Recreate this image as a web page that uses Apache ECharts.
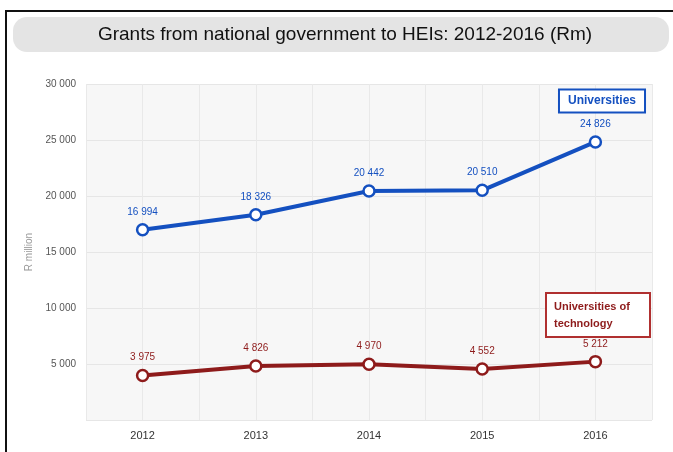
<!DOCTYPE html>
<html>
<head>
<meta charset="utf-8">
<script src="https://cdn.jsdelivr.net/npm/echarts@6/dist/echarts.min.js"></script>
<style>
  html, body { margin: 0; padding: 0; background: #fff; }
  #main { width: 673px; height: 452px; }
</style>
</head>
<body>
<div id="main"></div>
<script>
const years = ['2012', '2013', '2014', '2015', '2016'];
const universities = [16994, 18326, 20442, 20510, 24826];
const techUniversities = [3975, 4826, 4970, 4552, 5212];
const yTicks = [0, 5000, 10000, 15000, 20000, 25000, 30000];

const blue = '#1450c0';
const red = '#8e1b1b';

function spaced(v) {
  return String(v).replace(/\B(?=(\d{3})+(?!\d))/g, ' ');
}

const chart = echarts.init(document.getElementById('main'));
chart.setOption({
  animation: false,
  backgroundColor: '#fff',
  textStyle: { fontFamily: 'Liberation Sans, Arial, sans-serif' },
  graphic: [
    // outer frame
    { type: 'rect', shape: { x: 6, y: 11, width: 700, height: 500 },
      style: { fill: 'none', stroke: '#111', lineWidth: 2 }, z: 10 },
    // title bar
    { type: 'rect', shape: { x: 13, y: 17, width: 656, height: 35, r: 14 },
      style: { fill: '#e4e4e4' }, z: 1 },
    { type: 'text', x: 345, y: 35, z: 2,
      style: { text: 'Grants from national government to HEIs: 2012-2016 (Rm)',
               fill: '#111', font: '19px "Liberation Sans", Arial, sans-serif',
               align: 'center', verticalAlign: 'middle' } },
    // series boxes
    { type: 'text', x: 602, y: 101, z: 5,
      style: { text: 'Universities', fill: blue,
               font: 'bold 12px "Liberation Sans", Arial, sans-serif',
               align: 'center', verticalAlign: 'middle',
               backgroundColor: '#fff', borderColor: blue, borderWidth: 2,
               padding: [5, 8, 4, 8] } },
    { type: 'text', x: 547, y: 294, z: 5,
      style: { text: 'Universities of\ntechnology', fill: red,
               font: 'bold 11px "Liberation Sans", Arial, sans-serif',
               lineHeight: 17, width: 90,
               backgroundColor: '#fff', borderColor: '#b03030', borderWidth: 2,
               padding: [4, 5, 4, 7] } }
  ],
  grid: {
    left: 86, right: 21, top: 84, bottom: 32,
    show: true, backgroundColor: '#f7f7f7', borderWidth: 0
  },
  xAxis: [
    {
      type: 'category',
      data: years,
      boundaryGap: true,
      axisLine: { show: false },
      axisTick: { show: false },
      splitLine: { show: false },
      axisLabel: { color: '#333', fontSize: 11, margin: 10 }
    },
    {
      type: 'value',
      min: 0, max: 10, interval: 1,
      show: true,
      position: 'bottom',
      axisLine: { show: false },
      axisTick: { show: false },
      axisLabel: { show: false },
      splitLine: { show: true, lineStyle: { color: '#e9e9e9', width: 1 } }
    }
  ],
  yAxis: {
    type: 'value',
    min: yTicks[0], max: yTicks[yTicks.length - 1], interval: 5000,
    name: 'R million',
    nameLocation: 'middle',
    nameGap: 51,
    nameTextStyle: { color: '#999', fontSize: 10 },
    axisLine: { show: false },
    axisTick: { show: false },
    axisLabel: {
      color: '#555', fontSize: 10, margin: 10,
      formatter: function (v) { return v === 0 ? '' : spaced(v); }
    },
    splitLine: { lineStyle: { color: '#e6e6e6', width: 1 } }
  },
  series: [
    {
      name: 'Universities',
      type: 'line',
      data: universities,
      symbol: 'circle',
      symbolSize: 11,
      lineStyle: { color: blue, width: 4 },
      itemStyle: { color: '#fff', borderColor: blue, borderWidth: 2.5 },
      label: {
        show: true, position: 'top', distance: 6,
        color: blue, fontSize: 10,
        formatter: function (p) { return spaced(p.value); }
      },
      z: 3
    },
    {
      name: 'Universities of technology',
      type: 'line',
      data: techUniversities,
      symbol: 'circle',
      symbolSize: 11,
      lineStyle: { color: red, width: 4 },
      itemStyle: { color: '#fff', borderColor: red, borderWidth: 2.5 },
      label: {
        show: true, position: 'top', distance: 6,
        color: red, fontSize: 10,
        formatter: function (p) { return spaced(p.value); }
      },
      z: 3
    }
  ]
});
</script>
</body>
</html>
